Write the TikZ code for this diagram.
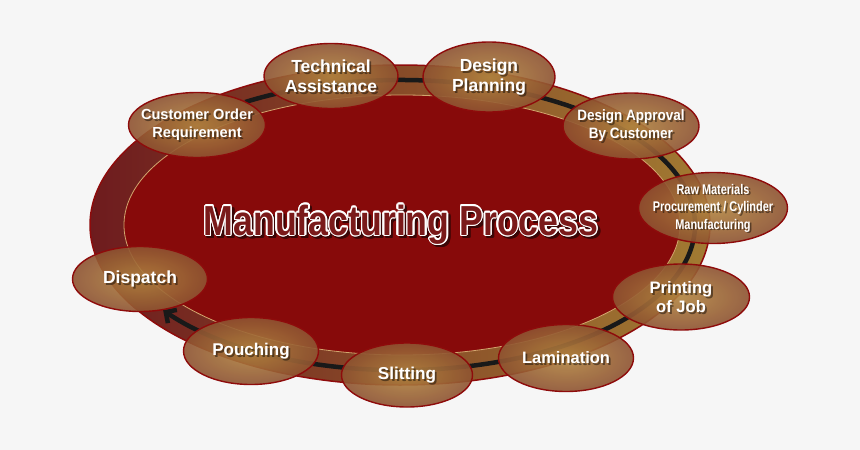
\documentclass[tikz,border=0pt]{standalone}
\usepackage{fontspec}
\setmainfont{Liberation Sans}
\newfontfamily\narrowfont{Liberation Sans}[FakeStretch=0.78]
\newfontfamily\semifont{Liberation Sans}[FakeStretch=0.9]
\newfontfamily\titlefont{Liberation Sans}[FakeStretch=0.85]
\usepackage{contour}
\usetikzlibrary{shapes.geometric, arrows.meta}

\definecolor{bgcolor}{HTML}{F6F6F6}
\definecolor{innerred}{HTML}{870A0A}
\definecolor{rimred}{HTML}{8E0B0B}
\definecolor{bandred}{HTML}{6E1B1E}
\definecolor{bandbrown}{HTML}{8C5229}
\definecolor{bandgold}{HTML}{A27B32}
\definecolor{stagelight}{HTML}{B2843F}
\definecolor{stagedark}{HTML}{8E5331}
\definecolor{rimtan}{HTML}{D2A66E}
\definecolor{titlered}{HTML}{7A1A1A}
\definecolor{titleshade}{HTML}{3A0606}

\newcommand{\stagefont}[2]{\fontsize{#1}{#2}\selectfont\bfseries}

\begin{document}
\begin{tikzpicture}[x=1pt, y=-1pt]
    \tikzset{
        stage/.style={ellipse, draw=rimred, line width=1.4pt, inner sep=0pt,
            shading=radial, inner color=stagelight, outer color=stagedark, fill opacity=0.9},
        stagetext/.style={text=white, align=center, inner sep=0pt},
        stageshadow/.style={text=black, text opacity=0.45, align=center, inner sep=0pt},
        titletext/.style={anchor=base, font=\titlefont\stagefont{42}{46}},
        flowline/.style={line width=4.5pt, draw=black!90,
            -{Straight Barb[length=8pt, width=16pt]}}
    }

    % --- fond
    \fill[bgcolor] (0,0) rectangle (860,450);

    % --- anneau
    \shade[left color=bandred, middle color=bandbrown, right color=bandgold]
        (400,225) ellipse [x radius=310, y radius=160];
    \draw[rimred, line width=1.5pt] (400,225) ellipse [x radius=310, y radius=160];
    \draw[rimtan, line width=0.8pt, fill=innerred] (402,225) ellipse [x radius=278, y radius=130];

    % --- fleche du cycle
    \coordinate (arcstart) at ([shift={(-122:294 and 145)}]401,225);
    \draw[flowline] (arcstart) arc [start angle=-122, end angle=144, x radius=294, y radius=145];

    % --- titre
    \contourlength{1.3pt}
    \node[titletext, text=titleshade, text opacity=0.7] (titleshadow) at (403.5,237.5)
        {\contour{titleshade}{Manufacturing Process}};
    \node[titletext, text=titlered] (title) at (401,235)
        {\contour{white}{Manufacturing Process}};

    % --- etapes
    \node[stage, minimum width=137, minimum height=65] (cust) at (197,125) {};
    \node[stage, minimum width=134, minimum height=65] (tech) at (331,76) {};
    \node[stage, minimum width=132, minimum height=70] (design) at (489,77) {};
    \node[stage, minimum width=136, minimum height=66] (approval) at (631,126) {};
    \node[stage, minimum width=149, minimum height=71] (raw) at (713,208) {};
    \node[stage, minimum width=137, minimum height=66] (print) at (681,297) {};
    \node[stage, minimum width=135, minimum height=67] (lam) at (566,358) {};
    \node[stage, minimum width=131, minimum height=64] (slit) at (407,375) {};
    \node[stage, minimum width=135, minimum height=67] (pouch) at (251,351) {};
    \node[stage, minimum width=135, minimum height=65] (disp) at (140,279) {};

    % ombres des textes
    \node[stageshadow, font=\stagefont{14.6}{18}] (custshadow) at ([shift={(1.8,1.8)}]cust) {Customer Order\\Requirement};
    \node[stageshadow, font=\stagefont{17.5}{20}] (techshadow) at ([shift={(1.8,1.8)}]tech) {Technical\\Assistance};
    \node[stageshadow, font=\stagefont{17.5}{20}] (designshadow) at ([shift={(1.8,1.8)}]design) {Design\\Planning};
    \node[stageshadow, font=\semifont\stagefont{15}{18}] (approvalshadow) at ([shift={(1.8,1.8)}]approval) {Design Approval\\By Customer};
    \node[stageshadow, font=\narrowfont\stagefont{14}{17.5}] (rawshadow) at ([shift={(1.8,1.8)}]raw) {Raw Materials\\Procurement / Cylinder\\Manufacturing};
    \node[stageshadow, font=\stagefont{16.6}{19}] (printshadow) at ([shift={(1.8,1.8)}]print) {Printing\\of Job};
    \node[stageshadow, font=\stagefont{16.5}{19}] (lamshadow) at ([shift={(1.8,1.8)}]lam) {Lamination};
    \node[stageshadow, font=\stagefont{17.2}{19}] (slitshadow) at ([shift={(1.8,1.8)}]slit) {Slitting};
    \node[stageshadow, font=\stagefont{17}{19}] (pouchshadow) at ([shift={(1.8,1.8)}]pouch) {Pouching};
    \node[stageshadow, font=\stagefont{17.5}{19}] (dispshadow) at ([shift={(1.8,1.8)}]disp) {Dispatch};

    % textes
    \node[stagetext, font=\stagefont{14.6}{18}] (custlabel) at (cust) {Customer Order\\Requirement};
    \node[stagetext, font=\stagefont{17.5}{20}] (techlabel) at (tech) {Technical\\Assistance};
    \node[stagetext, font=\stagefont{17.5}{20}] (designlabel) at (design) {Design\\Planning};
    \node[stagetext, font=\semifont\stagefont{15}{18}] (approvallabel) at (approval) {Design Approval\\By Customer};
    \node[stagetext, font=\narrowfont\stagefont{14}{17.5}] (rawlabel) at (raw) {Raw Materials\\Procurement / Cylinder\\Manufacturing};
    \node[stagetext, font=\stagefont{16.6}{19}] (printlabel) at (print) {Printing\\of Job};
    \node[stagetext, font=\stagefont{16.5}{19}] (lamlabel) at (lam) {Lamination};
    \node[stagetext, font=\stagefont{17.2}{19}] (slitlabel) at (slit) {Slitting};
    \node[stagetext, font=\stagefont{17}{19}] (pouchlabel) at (pouch) {Pouching};
    \node[stagetext, font=\stagefont{17.5}{19}] (displabel) at (disp) {Dispatch};

\end{tikzpicture}
\end{document}
